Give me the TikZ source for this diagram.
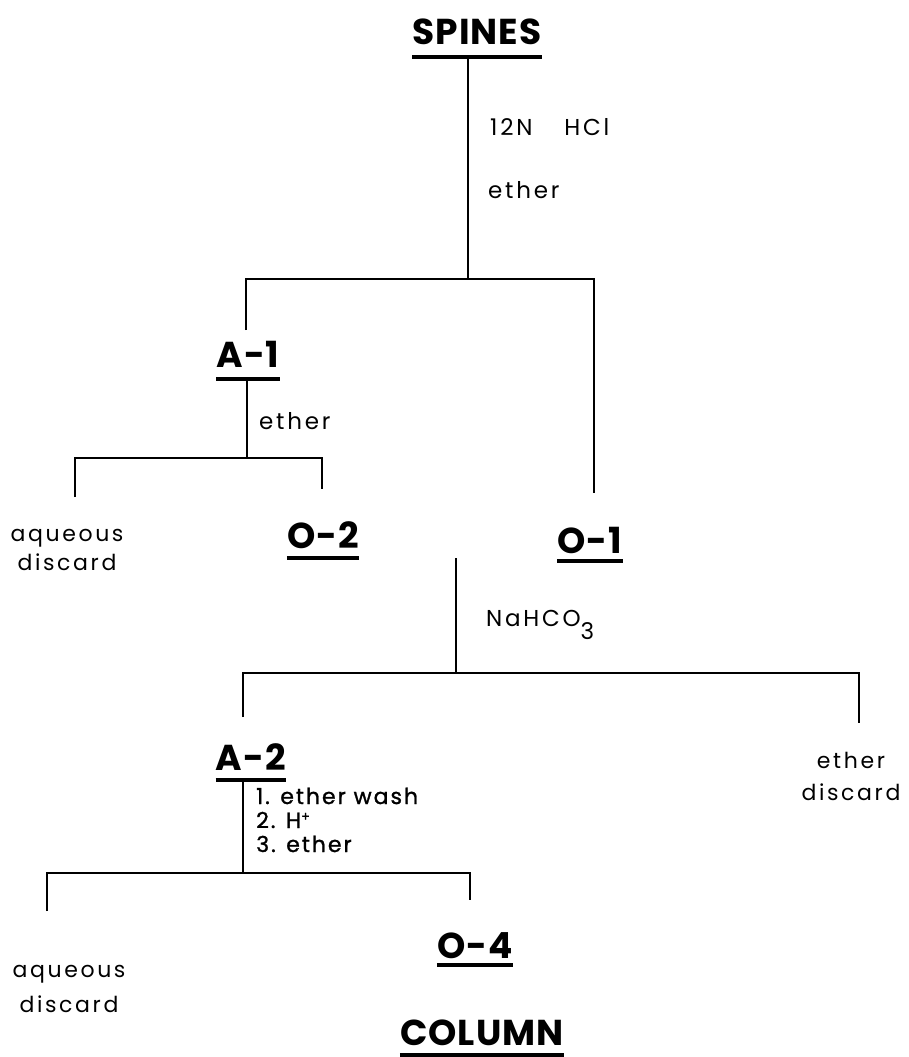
\documentclass[tikz,border=0pt]{standalone}
\usepackage{fontspec}
\setmainfont{Poppins}
\newfontfamily\ttlfont[LetterSpace=3]{Poppins}
\newfontfamily\lblfont[LetterSpace=12]{Poppins}
\newfontfamily\stepfont[LetterSpace=9,FakeBold=1.2]{Poppins}
\begin{document}
\begin{tikzpicture}[x=1pt,y=-1pt,
  title/.style={font=\ttlfont\bfseries\fontsize{36}{40}\selectfont, anchor=base, inner sep=0pt},
  lab/.style={font=\lblfont\fontsize{23}{28}\selectfont, anchor=base west, inner sep=0pt},
  labc/.style={font=\lblfont\fontsize{22}{29}\selectfont, anchor=base, inner sep=0pt, align=center},
  steps/.style={font=\stepfont\fontsize{22}{24}\selectfont, anchor=base west, inner sep=0pt, align=left},
  ln/.style={line width=2.1pt},
  ul/.style={line width=4pt}]
\useasboundingbox (0,0) rectangle (909,1057);

% titles
\node[title] (sp) at (477,45) {SPINES};
\node[title] (a1) at (248,367) {A-1};
\node[title] (o2) at (323,548) {O-2};
\node[title] (o1) at (590,553) {O-1};
\node[title] (a2) at (251,770) {A-2};
\node[title] (o4) at (475,958) {O-4};
\node[title] (col) at (482,1045) {COLUMN};
\foreach \n/\g in {sp/12,a1/12,o2/10,o1/8,a2/10,o4/7,col/10}
  \draw[ul] ([yshift=-\g]\n.base west) -- ([yshift=-\g]\n.base east);

% labels
\node[lab] (hcl) at (490,135) {12N\hspace{32pt}HCl};
\node[lab] (eth1) at (488,198) {ether};
\node[lab] (eth2) at (259,429) {ether};
\node[labc] (aq1) at (67,570) {aqueous\\discard};
\node[lab] (nahco) at (486,626) {NaHCO\raisebox{-13pt}{3}};
\node[labc] (ed) at (851,800) {ether\\[3pt]discard};
\node[steps] (st) at (256,852) {1. ether wash\\2. H\raisebox{7pt}{\fontsize{13}{13}\selectfont +}\\3. ether};
\node[labc] (aq2) at (69,1012) {aqueous\\[6pt]discard};

% junction coordinates
\coordinate (s0) at (468,57);
\coordinate (j0) at (468,279);
\coordinate (j0l) at (246,279);
\coordinate (j0r) at (594,279);
\coordinate (e0l) at (246,330);
\coordinate (e0r) at (594,493);

\coordinate (s1) at (247,379);
\coordinate (j1) at (247,458);
\coordinate (j1l) at (75,458);
\coordinate (j1r) at (322,458);
\coordinate (e1l) at (75,497);
\coordinate (e1r) at (322,489);

\coordinate (s2) at (456,558);
\coordinate (j2) at (456,673);
\coordinate (j2l) at (243,673);
\coordinate (j2r) at (859,673);
\coordinate (e2l) at (243,717);
\coordinate (e2r) at (859,723);

\coordinate (s3) at (243,780);
\coordinate (j3) at (243,873);
\coordinate (j3l) at (47,873);
\coordinate (j3r) at (470,873);
\coordinate (e3l) at (47,911);
\coordinate (e3r) at (470,900);

\draw[ln] (s0) -- (j0);
\draw[ln] (e0l) -- (j0l) -- (j0r) -- (e0r);
\draw[ln] (s1) -- (j1);
\draw[ln] (e1l) -- (j1l) -- (j1r) -- (e1r);
\draw[ln] (s2) -- (j2);
\draw[ln] (e2l) -- (j2l) -- (j2r) -- (e2r);
\draw[ln] (s3) -- (j3);
\draw[ln] (e3l) -- (j3l) -- (j3r) -- (e3r);
\end{tikzpicture}
\end{document}
